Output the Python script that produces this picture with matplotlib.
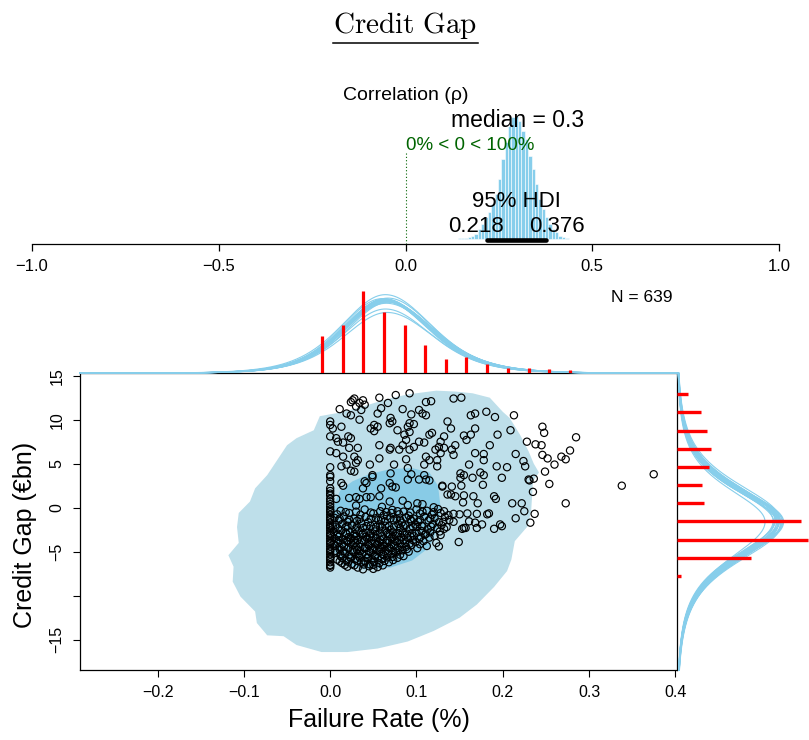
"""Credit gap vs failure rate: Bayesian correlation plot (R style)."""
import numpy as np
import matplotlib

matplotlib.use("Agg")
import matplotlib.pyplot as plt
from matplotlib.lines import Line2D
from matplotlib.patches import Polygon
from matplotlib.transforms import ScaledTranslation

plt.rcParams["font.family"] = ["Liberation Sans", "DejaVu Sans"]
plt.rcParams["mathtext.fontset"] = "cm"

W, H, DPI = 809, 740, 100

# ---------------- data ----------------
n_obs = 639
rho_median = 0.3
rho_hdi = (0.218, 0.376)
rho_bin_start = 0.1305
rho_bin_width = 0.009
rho_heights = [0.5, 1, 1, 1.5, 2, 3, 5, 10, 15, 21.7, 26.7, 35, 45, 60, 80, 96.7,
               113, 121.7, 123.3, 118.3, 108.3, 100, 83.3, 70, 55, 40, 30, 21.7,
               15, 10, 6.7, 3.3, 1.7, 1, 0.5]

# marginal histogram of failure rate
fr_bins = [-0.0096, 0.0147, 0.0386, 0.0626, 0.0866, 0.110, 0.134, 0.158, 0.182,
           0.206, 0.230, 0.254, 0.278, 0.350, 0.373]
fr_counts = [65, 85, 144, 106, 85, 49, 25, 29, 17, 10, 10, 7, 5, 1, 1]

# marginal histogram of credit gap
cg_bins = [12.92, 10.84, 8.75, 6.67, 4.63, 2.58, 0.5, -1.55, -3.64, -5.68, -7.73]
cg_counts = [13, 30, 37, 42, 40, 31, 34, 153, 162, 92, 5]

# posterior predictive marginal curves (two-piece t): mode, low/high scale, peak
fr_mode = [0.062, 0.064, 0.066, 0.063, 0.065, 0.061, 0.067, 0.064, 0.063, 0.066,
           0.062, 0.065, 0.064, 0.068, 0.063, 0.065, 0.060, 0.064, 0.066, 0.063]
fr_s_lo = [0.050, 0.052, 0.051, 0.049, 0.053, 0.050, 0.052, 0.051, 0.048, 0.052,
           0.051, 0.050, 0.053, 0.051, 0.049, 0.052, 0.050, 0.051, 0.052, 0.050]
fr_s_hi = [0.056, 0.055, 0.057, 0.054, 0.058, 0.056, 0.055, 0.057, 0.055, 0.056,
           0.054, 0.057, 0.056, 0.055, 0.058, 0.056, 0.057, 0.055, 0.056, 0.054]
fr_peak = [126, 128, 124, 130, 122, 127, 131, 125, 129, 106,
           127, 126, 137, 124, 128, 126, 130, 112, 125, 128]
fr_df = 6

cg_mode = [-1.6, -1.5, -1.7, -1.4, -1.8, -1.6, -1.5, -1.9, -1.3, -1.6,
           -1.7, -1.5, -1.6, -2.0, -1.4, -1.6, -1.8, -1.5, -1.7, -1.6]
cg_s_hi = [4.0, 4.1, 3.9, 4.2, 4.0, 3.8, 4.1, 4.0, 4.2, 3.9,
           4.0, 4.1, 3.9, 4.0, 4.2, 4.0, 3.9, 4.1, 4.0, 4.1]
cg_s_lo = [4.3, 4.2, 4.4, 4.3, 4.1, 4.3, 4.4, 4.2, 4.3, 4.5,
           4.2, 4.3, 4.4, 4.3, 4.2, 4.3, 4.4, 4.2, 4.3, 4.4]
cg_peak = [126, 124, 129, 121, 128, 132, 119, 125, 127, 130,
           123, 126, 109, 128, 122, 131, 125, 127, 120, 126]
cg_df = 4

# 2-d posterior predictive regions (outer / inner)
outer_region = [(-0.012, 10.4), (0.011, 10.8), (0.038, 11.5), (0.061, 12.2), (0.077, 12.6),
                (0.092, 12.9), (0.123, 13.3), (0.145, 13.2), (0.165, 13.0), (0.185, 12.5),
                (0.200, 10.9), (0.208, 10.2), (0.220, 8.3), (0.230, 6.4), (0.236, 5.0),
                (0.242, 4.0), (0.235, 3.0), (0.234, 1.3), (0.233, -0.3), (0.229, -2.1),
                (0.214, -3.8), (0.210, -5.9), (0.205, -7.2), (0.190, -9.0), (0.170, -11.0),
                (0.150, -12.5), (0.120, -14.0), (0.090, -15.2), (0.055, -16.0), (0.020, -16.4),
                (-0.010, -16.4), (-0.039, -15.6), (-0.054, -14.6), (-0.073, -14.5),
                (-0.085, -13.1), (-0.087, -11.8), (-0.104, -10.1), (-0.113, -8.4),
                (-0.112, -6.7), (-0.118, -5.4), (-0.106, -4.0), (-0.108, -2.2),
                (-0.106, -0.6), (-0.093, 0.7), (-0.087, 2.2), (-0.073, 3.7), (-0.050, 7.1),
                (-0.039, 7.9), (-0.019, 8.8)]
inner_region = [(0.005, 0.5), (0.012, 2.0), (0.026, 3.0), (0.045, 3.8), (0.070, 4.4),
                (0.095, 4.5), (0.115, 4.0), (0.125, 2.5), (0.128, 0.0), (0.124, -2.5),
                (0.115, -4.5), (0.095, -6.0), (0.070, -6.8), (0.040, -7.0), (0.015, -6.5),
                (0.005, -5.0), (0.003, -2.0)]

# observations (failure rate, credit gap)
upper_pts = [
    (0.026, 12.2), (0.028, 12.4), (0.038, 12.2), (0.024, 12.0), (0.034, 11.9), (0.040, 11.7),
    (0.030, 11.5), (0.036, 11.1), (0.057, 12.5), (0.076, 12.8), (0.092, 13.0), (0.067, 11.9),
    (0.059, 11.3), (0.084, 11.2), (0.111, 12.0), (0.117, 12.1), (0.011, 11.2), (0.019, 10.7),
    (0.024, 10.5), (0.034, 10.0), (0.055, 10.7), (0.103, 11.1), (0.107, 10.7), (0.111, 10.5),
    (0.070, 10.2), (0.072, 9.8), (0.094, 10.6), (0.136, 9.8), (0.0, 9.8), (0.0, 9.4),
    (0.003, 9.0), (0.013, 9.2), (0.051, 9.4), (0.055, 9.2), (0.047, 9.0), (0.051, 8.7),
    (0.092, 9.6), (0.097, 9.5), (0.069, 9.6), (0.078, 8.8), (0.090, 9.2), (0.092, 8.6),
    (0.086, 8.3), (0.088, 7.7), (0.115, 8.3), (0.118, 8.5), (0.132, 8.1), (0.0, 8.1),
    (0.007, 7.9), (0.021, 8.1), (0.024, 7.9), (0.009, 7.5), (0.015, 7.4), (0.084, 7.1),
    (0.103, 7.5), (0.109, 7.4), (0.126, 6.9), (0.122, 6.6), (0.132, 6.8), (0.057, 7.1),
    (0.069, 6.6), (0.070, 6.8), (0.080, 6.6), (0.092, 6.6), (0.097, 6.9), (0.0, 6.4),
    (0.007, 6.2), (0.015, 5.8), (0.022, 6.8), (0.032, 6.8), (0.028, 5.8), (0.032, 5.4),
    (0.030, 5.1), (0.019, 4.9), (0.013, 4.7), (0.024, 4.2), (0.028, 4.1), (0.046, 4.9),
    (0.057, 5.6), (0.074, 4.9), (0.088, 5.5), (0.111, 5.8), (0.115, 5.4), (0.124, 5.4),
    (0.109, 4.9), (0.124, 4.7), (0.0, 4.6), (0.0, 3.7), (0.049, 3.7), (0.070, 3.9),
    (0.090, 4.5), (0.094, 3.8), (0.109, 3.7),
    (0.143, 12.4), (0.152, 12.5), (0.163, 10.5), (0.168, 10.7), (0.181, 10.9), (0.191, 10.3),
    (0.213, 10.5), (0.140, 9.0), (0.168, 9.0), (0.163, 8.3), (0.155, 8.2), (0.158, 7.7),
    (0.194, 8.3), (0.209, 8.8), (0.246, 9.2), (0.248, 8.5), (0.228, 7.5), (0.238, 7.2),
    (0.245, 7.1), (0.285, 8.0), (0.128, 7.5), (0.128, 6.2), (0.145, 7.1), (0.141, 6.6),
    (0.143, 6.0), (0.185, 7.1), (0.168, 6.2), (0.178, 6.1), (0.178, 5.4), (0.161, 4.9),
    (0.215, 6.1), (0.224, 5.3), (0.226, 4.7), (0.193, 4.7), (0.205, 4.6), (0.246, 6.0),
    (0.252, 5.6), (0.260, 4.9), (0.268, 5.8), (0.273, 5.5), (0.278, 6.5), (0.249, 4.1),
    (0.151, 3.9), (0.155, 3.7), (0.174, 4.0), (0.178, 3.7), (0.199, 3.4), (0.230, 3.2),
    (0.236, 3.3),
]
mid_pts = [
    (0.375, 3.8), (0.254, 2.7), (0.338, 2.5), (0.273, 0.5), (0.235, 1.8), (0.231, 3.1),
    (0.222, 0.5), (0.211, 0.5), (0.225, -0.4), (0.237, -0.7), (0.215, -1.2), (0.232, -1.7),
    (0.130, 2.5), (0.141, 2.4), (0.152, 2.5), (0.165, 3.4), (0.177, 2.6), (0.151, 3.4),
    (0.140, 1.5), (0.145, 1.3), (0.155, 1.4), (0.166, 1.3), (0.154, 0.6), (0.171, 0.5),
    (0.190, 1.3), (0.192, 1.0), (0.143, -0.7), (0.150, -0.75), (0.159, -0.65), (0.170, -0.7),
    (0.182, -0.75), (0.184, -0.65), (0.131, -1.6), (0.143, -1.6), (0.161, -1.55),
    (0.168, -1.7), (0.176, -1.9), (0.197, -1.9), (0.199, -2.1), (0.190, -2.4), (0.155, -2.3),
    (0.153, -2.4), (0.157, -2.3), (0.170, -2.3), (0.132, -2.4), (0.128, -3.1), (0.149, -3.9),
    (0.126, -4.4),
    (0.0, 3.5), (0.0, 3.0), (0.013, 2.8), (0.015, 2.5), (0.040, 3.0), (0.042, 2.8),
    (0.049, 3.5), (0.038, 2.2), (0.059, 2.2), (0.069, 2.8), (0.072, 2.4), (0.076, 2.3),
    (0.090, 3.2), (0.103, 3.2), (0.111, 3.2), (0.115, 3.1), (0.130, 2.4), (0.136, 1.5),
    (0.030, 1.2), (0.034, 1.0), (0.042, 1.2), (0.047, 1.2), (0.057, 1.3), (0.069, 0.7),
    (0.084, 0.8), (0.101, 0.5), (0.107, 0.4), (0.022, 1.1), (0.007, 1.0),
]
zero_rate_gap = [2.2, 1.9, 1.6, 1.4, 1.0, 0.7, 0.4, 0.1, -0.2, -0.5, -0.8, -1.1, -1.4,
                 -1.7, -2.0, -2.3, -2.6, -2.9, -3.2, -3.5, -3.8, -4.1, -4.4, -4.7, -5.0,
                 -5.3, -5.6, -5.9, -6.2, -6.5, -6.8, -0.35, -1.25, -2.15, -3.05, -3.95,
                 -4.85, -5.75, -6.6]
core_pts = [
    (0.03, 0.25), (0.06, 0.1), (0.09, 0.3), (0.12, 0.05),
    (0.012, -0.35), (0.04, -0.2), (0.058, -0.4), (0.072, -0.25), (0.085, -0.45), (0.1, -0.2),
    (0.112, -0.35), (0.125, -0.15),
    (0.008, -0.75), (0.022, -0.6), (0.035, -0.8), (0.05, -0.65), (0.062, -0.85), (0.071, -0.6),
    (0.08, -0.75), (0.091, -0.9), (0.104, -0.65), (0.118, -0.8), (0.128, -0.6), (0.137, -0.85),
    (0.005, -1.15), (0.016, -1.0), (0.028, -1.25), (0.041, -1.05), (0.053, -1.2), (0.066, -0.95),
    (0.077, -1.3), (0.088, -1.1), (0.097, -1.25), (0.109, -1.0), (0.121, -1.2), (0.133, -1.05),
    (0.01, -1.45), (0.02, -1.6), (0.031, -1.5), (0.044, -1.65), (0.056, -1.4), (0.063, -1.55),
    (0.074, -1.45), (0.083, -1.7), (0.094, -1.5), (0.102, -1.6), (0.114, -1.45), (0.126, -1.65),
    (0.138, -1.4),
    (0.006, -1.95), (0.014, -1.85), (0.025, -2.0), (0.036, -1.8), (0.047, -2.05), (0.058, -1.9),
    (0.068, -2.1), (0.079, -1.85), (0.087, -2.0), (0.099, -1.9), (0.107, -2.1), (0.119, -1.85),
    (0.129, -2.0),
    (0.009, -2.35), (0.018, -2.2), (0.029, -2.45), (0.038, -2.3), (0.05, -2.4), (0.06, -2.25),
    (0.07, -2.5), (0.081, -2.3), (0.092, -2.4), (0.101, -2.2), (0.113, -2.45), (0.124, -2.3),
    (0.135, -2.2),
    (0.004, -2.75), (0.013, -2.6), (0.023, -2.8), (0.033, -2.65), (0.042, -2.85), (0.052, -2.7),
    (0.064, -2.6), (0.073, -2.8), (0.084, -2.7), (0.095, -2.9), (0.106, -2.65), (0.116, -2.8),
    (0.127, -2.7),
    (0.008, -3.15), (0.019, -3.0), (0.027, -3.2), (0.037, -3.05), (0.046, -3.25), (0.055, -3.1),
    (0.067, -3.0), (0.076, -3.2), (0.086, -3.1), (0.097, -3.25), (0.11, -3.05), (0.121, -3.2),
    (0.005, -3.5), (0.015, -3.6), (0.024, -3.45), (0.032, -3.65), (0.043, -3.5), (0.053, -3.4),
    (0.061, -3.6), (0.071, -3.5), (0.08, -3.65), (0.09, -3.45), (0.103, -3.55), (0.115, -3.4),
    (0.009, -3.95), (0.02, -3.85), (0.029, -4.0), (0.039, -3.8), (0.048, -4.05), (0.057, -3.9),
    (0.066, -4.0), (0.077, -3.85), (0.087, -4.05), (0.099, -3.9), (0.108, -3.8), (0.123, -4.0),
    (0.006, -4.3), (0.016, -4.4), (0.026, -4.25), (0.035, -4.45), (0.045, -4.3), (0.054, -4.2),
    (0.063, -4.4), (0.074, -4.3), (0.083, -4.45), (0.094, -4.25), (0.112, -4.35),
    (0.011, -4.75), (0.021, -4.6), (0.031, -4.8), (0.04, -4.65), (0.05, -4.85), (0.059, -4.7),
    (0.069, -4.6), (0.079, -4.8), (0.089, -4.7), (0.101, -4.6),
    (0.007, -5.1), (0.017, -5.2), (0.027, -5.05), (0.037, -5.25), (0.047, -5.1), (0.057, -5.0),
    (0.067, -5.2), (0.076, -5.1), (0.091, -5.0),
    (0.012, -5.5), (0.023, -5.6), (0.033, -5.45), (0.043, -5.65), (0.052, -5.5), (0.062, -5.4),
    (0.072, -5.6), (0.085, -5.5),
    (0.008, -5.9), (0.019, -6.0), (0.029, -5.85), (0.039, -6.05), (0.049, -5.9), (0.06, -5.8),
    (0.073, -5.95),
    (0.014, -6.3), (0.025, -6.4), (0.036, -6.25), (0.046, -6.45), (0.057, -6.3), (0.068, -6.2),
    (0.02, -6.7), (0.032, -6.8), (0.045, -6.65), (0.055, -6.75),
    (0.038, -7.0), (0.05, -6.95),
]
core_pts_2 = [
    (0.018, -0.5), (0.03, -0.45), (0.047, -0.55), (0.065, -0.5), (0.078, -0.4), (0.093, -0.55),
    (0.107, -0.45), (0.12, -0.5), (0.132, -0.4),
    (0.011, -1.25), (0.022, -1.35), (0.034, -1.3), (0.047, -1.25), (0.059, -1.35), (0.07, -1.2),
    (0.081, -1.35), (0.093, -1.3), (0.104, -1.4), (0.116, -1.25),
    (0.003, -2.1), (0.02, -2.05), (0.031, -2.15), (0.042, -2.1), (0.053, -2.2), (0.064, -2.05),
    (0.074, -2.15), (0.085, -2.1), (0.096, -2.2), (0.106, -2.05), (0.117, -2.15),
    (0.009, -2.95), (0.018, -2.85), (0.028, -3.0), (0.038, -2.9), (0.047, -2.95), (0.058, -2.85),
    (0.069, -3.0), (0.079, -2.9), (0.089, -2.95), (0.1, -2.85), (0.111, -2.95),
    (0.01, -3.3), (0.021, -3.35), (0.03, -3.25), (0.041, -3.3), (0.05, -3.35), (0.06, -3.25),
    (0.072, -3.3), (0.082, -3.35), (0.093, -3.25), (0.105, -3.3),
    (0.01, -3.7), (0.019, -3.75), (0.028, -3.65), (0.037, -3.7), (0.048, -3.75), (0.058, -3.65),
    (0.066, -3.7), (0.075, -3.75), (0.085, -3.65), (0.096, -3.7),
    (0.004, -4.1), (0.014, -4.15), (0.024, -4.05), (0.034, -4.1), (0.044, -4.15), (0.052, -4.05),
    (0.061, -4.1), (0.071, -4.15), (0.081, -4.05), (0.092, -4.1), (0.104, -4.15),
    (0.011, -4.5), (0.021, -4.55), (0.03, -4.45), (0.04, -4.5), (0.049, -4.55), (0.058, -4.45),
    (0.068, -4.5), (0.078, -4.55), (0.088, -4.45),
    (0.006, -4.9), (0.016, -4.95), (0.026, -4.85), (0.035, -4.9), (0.045, -4.95), (0.054, -4.85),
    (0.064, -4.9), (0.073, -4.95), (0.084, -4.85),
    (0.012, -5.3), (0.022, -5.35), (0.032, -5.25), (0.042, -5.3), (0.052, -5.35), (0.061, -5.25),
    (0.071, -5.3), (0.081, -5.35),
    (0.014, -5.7), (0.024, -5.75), (0.034, -5.65), (0.044, -5.7), (0.055, -5.75), (0.066, -5.65),
    (0.078, -5.7),
    (0.011, -6.1), (0.021, -6.15), (0.031, -6.05), (0.041, -6.1), (0.051, -6.15), (0.063, -6.05),
    (0.017, -6.5), (0.028, -6.55), (0.039, -6.45), (0.05, -6.5), (0.061, -6.55),
]

x_lim = (-0.29, 0.402)
y_lim = (-18.44, 15.27)


def two_piece_t(v, mode, s_lo, s_hi, df):
    s = np.where(v < mode, s_lo, s_hi)
    return (1 + ((v - mode) / s) ** 2 / df) ** (-(df + 1) / 2)


def box(left, top, right, bottom):
    return [left / W, 1 - bottom / H, (right - left) / W, (bottom - top) / H]


def minus(v, fmt):
    return format(v, fmt).replace("-", "\u2212")


fig = plt.figure(figsize=(W / DPI, H / DPI), dpi=DPI)

# ---------------- posterior of rho ----------------
ax_rho = fig.add_axes(box(32, 60, 779, 244))
ax_rho.set_xlim(-1, 1)
ax_rho.set_ylim(-5, 179)
rho_centers = rho_bin_start + rho_bin_width * (np.arange(len(rho_heights)) + 0.5)
ax_rho.bar(rho_centers, rho_heights, width=rho_bin_width, color="skyblue",
           edgecolor="white", linewidth=0.4)
ax_rho.plot(rho_hdi, [-0.5, -0.5], color="black", lw=3.3, solid_capstyle="round",
            clip_on=False, zorder=5)
ax_rho.plot([0, 0], [86, -5], color="darkgreen", lw=0.8, ls=(0, (1, 2)))
for s in ("left", "right", "top"):
    ax_rho.spines[s].set_visible(False)
ax_rho.spines["bottom"].set_bounds(-1, 1)
ax_rho.spines["bottom"].set_linewidth(0.9)
ax_rho.set_yticks([])
rho_ticks = [-1.0, -0.5, 0.0, 0.5, 1.0]
ax_rho.set_xticks(rho_ticks, labels=[minus(t, ".1f") for t in rho_ticks])
ax_rho.tick_params(axis="x", direction="out", length=5, width=0.9, labelsize=12, pad=6)
ax_rho.patch.set_alpha(0)

ax_rho.text(0.0, 139, "Correlation (\u03c1)", ha="center", va="baseline", fontsize=14)
ax_rho.text(rho_median, 112, f"median = {rho_median:g}", ha="center", va="baseline",
            fontsize=16.5)
ax_rho.text(0.0, 89, "0% < 0 < 100%", ha="left", va="baseline", fontsize=13.5,
            color="darkgreen")
ax_rho.text(np.mean(rho_hdi), 32, "95% HDI", ha="center", va="baseline", fontsize=16)
t_lo = ax_rho.text(rho_hdi[0], 7, f"{rho_hdi[0]:.3f}", ha="left", va="baseline",
                   fontsize=16)
t_hi = ax_rho.text(rho_hdi[1], 7, f"{rho_hdi[1]:.3f}", ha="left", va="baseline",
                   fontsize=16)

# ---------------- main scatter ----------------
ax = fig.add_axes(box(80, 373.3, 677, 670))
ax.set_xlim(*x_lim)
ax.set_ylim(*y_lim)
ax.add_patch(Polygon(outer_region, closed=True, fc="#BEDFEA", ec="none", zorder=1))
ax.add_patch(Polygon(inner_region, closed=True, fc="#88CBE6", ec="none", zorder=1.5))
pts = np.array(upper_pts + mid_pts + core_pts + core_pts_2)
ax.scatter(pts[:, 0], pts[:, 1], s=27, facecolors="none", edgecolors="black",
           linewidths=0.85, zorder=3)
ax.scatter(np.zeros(len(zero_rate_gap)), zero_rate_gap, s=27, facecolors="none",
           edgecolors="black", linewidths=0.85, zorder=3)
x_ticks = [-0.2, -0.1, 0.0, 0.1, 0.2, 0.3, 0.4]
ax.set_xticks(x_ticks, labels=[minus(t, ".1f") for t in x_ticks])
y_ticks = [-15, -10, -5, 0, 5, 10, 15]
ax.set_yticks(y_ticks, labels=["" if t == -10 else minus(t, "d") for t in y_ticks])
ax.tick_params(direction="out", length=5, width=0.8, labelsize=11.5, pad=6)
ax.tick_params(axis="y", labelrotation=90)
for lab in ax.get_yticklabels():
    lab.set_va("center")
for s in ax.spines.values():
    s.set_linewidth(0.9)

# ---------------- top marginal ----------------
ax_top = fig.add_axes(box(80, 280.3, 677, 373.3))
ax_top.set_xlim(*x_lim)
ax_top.set_ylim(0, 162)
ax_top.axis("off")
xs = np.linspace(x_lim[0], x_lim[1], 500)
for m, sl, sh, pk in zip(fr_mode, fr_s_lo, fr_s_hi, fr_peak):
    ax_top.plot(xs, pk * two_piece_t(xs, m, sl, sh, fr_df), color="skyblue", lw=0.8,
                clip_on=False)
ax_top.vlines(fr_bins, 0, fr_counts, color="red", lw=2.3, capstyle="butt", zorder=3)

# ---------------- right marginal ----------------
ax_right = fig.add_axes(box(677, 373.3, 809, 670))
ax_right.set_ylim(*y_lim)
ax_right.set_xlim(0, 163.4)
ax_right.axis("off")
ys = np.linspace(y_lim[0], y_lim[1], 500)
for m, sl, sh, pk in zip(cg_mode, cg_s_lo, cg_s_hi, cg_peak):
    ax_right.plot(pk * two_piece_t(ys, m, sl, sh, cg_df), ys, color="skyblue", lw=0.8,
                  clip_on=False)
ax_right.hlines(cg_bins, 0, cg_counts, color="red", lw=2.4, capstyle="butt", zorder=3)

# ---------------- labels ----------------
fig.text(642 / W, 1 - 297 / H, f"N = {n_obs}", ha="center", va="center", fontsize=12.5)
fig.text(378.5 / W, 1 - 720 / H, "Failure Rate (%)", ha="center", va="center", fontsize=18)
fig.text(25 / W, 1 - 535 / H, "Credit Gap (\u20acbn)", rotation=90, ha="center",
         va="center", fontsize=18)
title = fig.text(405.5 / W, 1 - 33 / H, r"$\mathrm{Credit\ Gap}$", ha="center",
                 va="baseline", fontsize=21)

fig.canvas.draw()
renderer = fig.canvas.get_renderer()
for t, frac in ((t_lo, 0.7), (t_hi, 0.3)):
    w = t.get_window_extent(renderer).width
    t.set_transform(ax_rho.transData
                    + ScaledTranslation(-frac * w / DPI, 0, fig.dpi_scale_trans))
bb = title.get_window_extent(renderer)
fig.add_artist(Line2D([bb.x0 / W, bb.x1 / W], [(bb.y0 - 1.5) / H] * 2,
                      color="black", lw=1.1))

fig.savefig("out.png", dpi=DPI)
plt.close(fig)
